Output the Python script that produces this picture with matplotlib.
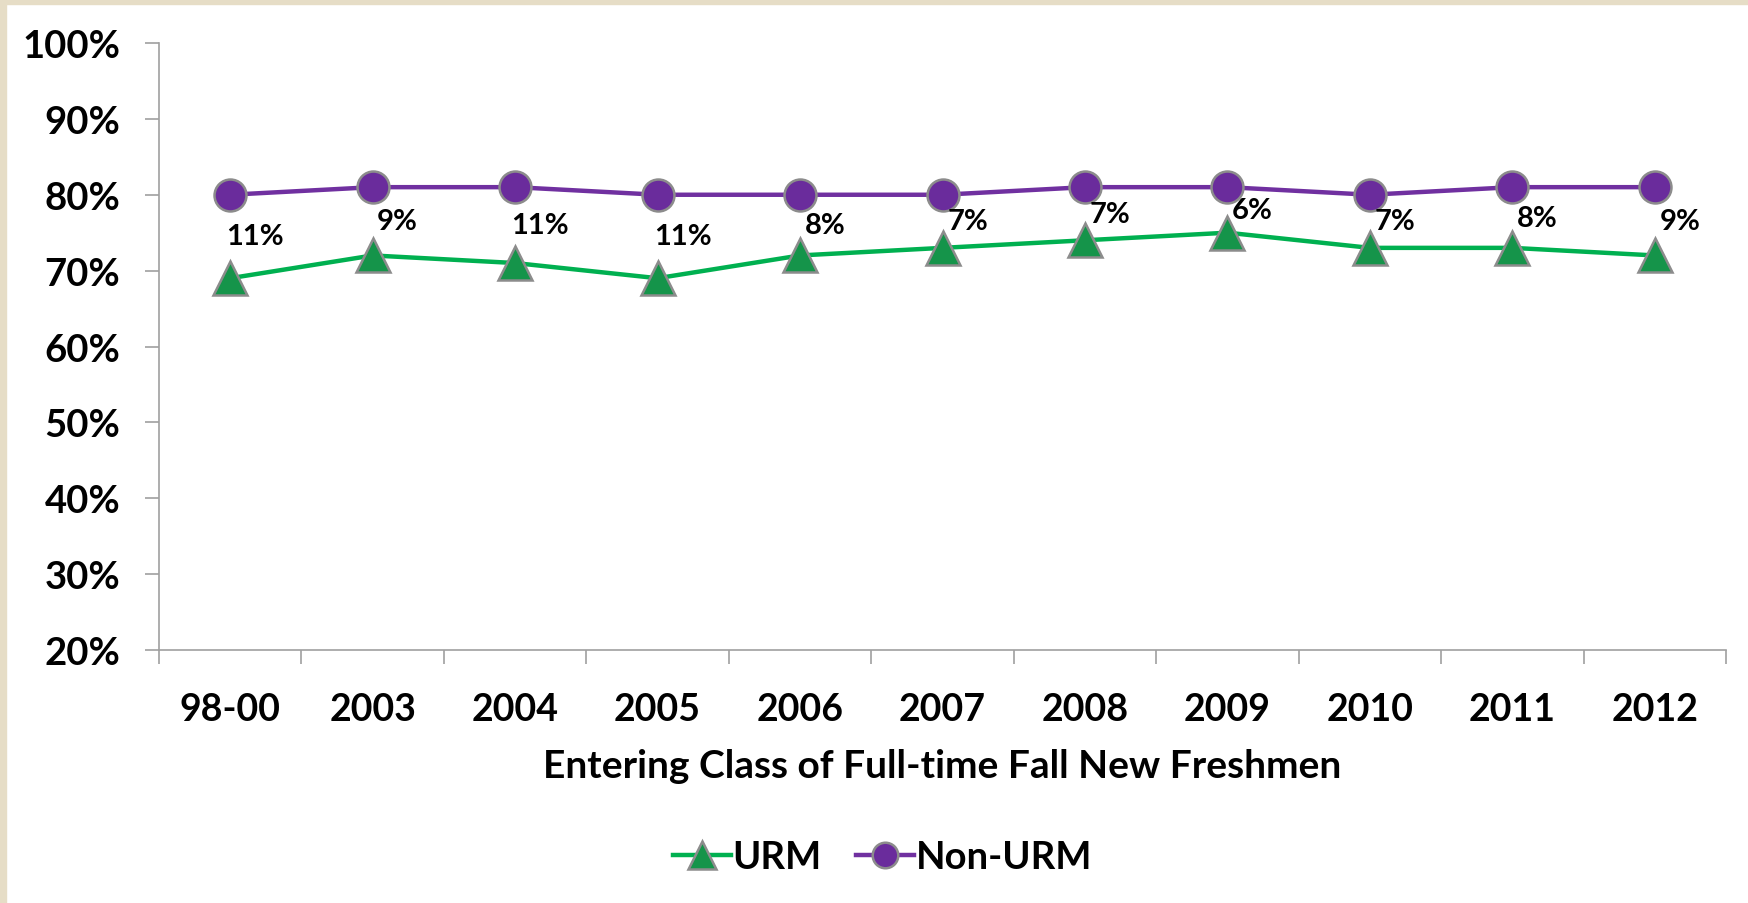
import numpy as np
import matplotlib.pyplot as plt
from matplotlib.patches import Rectangle
from matplotlib.ticker import FixedLocator, PercentFormatter

categories = ['98-00', '2003', '2004', '2005', '2006', '2007', '2008', '2009', '2010', '2011', '2012']
urm = [69, 72, 71, 69, 72, 73, 74, 75, 73, 73, 72]
non_urm = [80, 81, 81, 80, 80, 80, 81, 81, 80, 81, 81]
gap_labels = ['11%', '9%', '11%', '11%', '8%', '7%', '7%', '6%', '7%', '8%', '9%']

plt.rcParams['font.family'] = ['Lato', 'DejaVu Sans']
plt.rcParams['font.weight'] = 'bold'

fig = plt.figure(figsize=(17.48, 9.04), dpi=100)
ax = fig.add_axes([159 / 1748, 1 - 651 / 904, (1726 - 159) / 1748, (651 - 44) / 904])

# beige frame on the left and top edges
fig.patches.append(Rectangle((0, 0), 6 / 1748, 1, transform=fig.transFigure, color='#E6DDC6', zorder=0))
fig.patches.append(Rectangle((0, 1 - 5 / 904), 1, 5 / 904, transform=fig.transFigure, color='#E6DDC6', zorder=0))

x = np.arange(len(categories))

ax.plot(x, urm, color='#00B050', lw=3.2, marker='^', ms=25, mfc='#15944A',
        mec='#8C8C8C', mew=1.8, label='URM', zorder=3)
ax.plot(x, non_urm, color='#7030A0', lw=3.2, marker='o', ms=23, mfc='#6A2C9C',
        mec='#8C8C8C', mew=1.8, label='Non-URM', zorder=3)

for i, lab in enumerate(gap_labels):
    ax.annotate(lab, (x[i], (urm[i] + non_urm[i]) / 2), xytext=(18, 0), textcoords='offset points',
                ha='center', va='center', fontsize=21, fontweight='bold', color='black', zorder=4)

ax.set_xlim(-0.5, len(categories) - 0.5)
ax.set_ylim(20, 100)
ax.set_yticks(np.arange(20, 101, 10))
ax.yaxis.set_major_formatter(PercentFormatter(decimals=0))
ax.set_xticks(x)
ax.set_xticklabels(categories)
ax.xaxis.set_minor_locator(FixedLocator(np.arange(-0.5, len(categories), 1)))

ax.tick_params(axis='y', length=10, width=1.2, color='#A0A0A0', pad=18, labelsize=27.5)
ax.tick_params(axis='x', which='major', length=0, pad=30, labelsize=27)
ax.tick_params(axis='x', which='minor', length=10, width=1.2, color='#A0A0A0')

for side in ['top', 'right']:
    ax.spines[side].set_visible(False)
for side in ['left', 'bottom']:
    ax.spines[side].set_color('#A0A0A0')
    ax.spines[side].set_linewidth(1.2)

ax.set_xlabel('Entering Class of Full-time Fall New Freshmen', fontsize=28, fontweight='bold', labelpad=16)

ax.legend(loc='center', bbox_to_anchor=(0.505, 0.051), bbox_transform=fig.transFigure, ncol=2,
          frameon=False, fontsize=27.5, handlelength=1.5, handletextpad=0.05, columnspacing=0.9,
          markerscale=0.8)

fig.savefig('out.png', dpi=100)
